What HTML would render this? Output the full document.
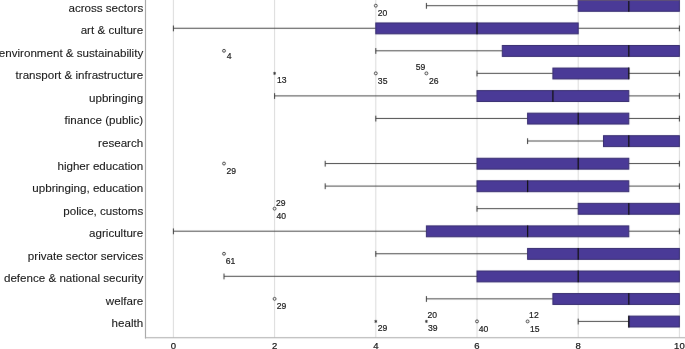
<!DOCTYPE html>
<html><head><meta charset="utf-8"><style>
html,body{margin:0;padding:0;background:#fff;width:685px;height:349px;overflow:hidden}
svg{display:block;will-change:transform;font-family:"Liberation Sans",sans-serif}
</style></head><body>
<svg width="685" height="349" viewBox="0 0 685 349">
<defs><filter id="bl" x="0" y="0" width="685" height="349" filterUnits="userSpaceOnUse" color-interpolation-filters="sRGB"><feConvolveMatrix order="3" kernelMatrix="0.00163 0.03713 0.00163 0.03713 0.84497 0.03713 0.00163 0.03713 0.00163" edgeMode="duplicate" preserveAlpha="true"/></filter></defs>
<rect width="685" height="349" fill="#fff"/>
<g filter="url(#bl)"><rect width="685" height="349" fill="#fff"/>
<line x1="173.40" y1="0" x2="173.40" y2="337.6" stroke="#dadada" stroke-width="1"/>
<line x1="274.60" y1="0" x2="274.60" y2="337.6" stroke="#dadada" stroke-width="1"/>
<line x1="375.80" y1="0" x2="375.80" y2="337.6" stroke="#dadada" stroke-width="1"/>
<line x1="477.00" y1="0" x2="477.00" y2="337.6" stroke="#dadada" stroke-width="1"/>
<line x1="578.20" y1="0" x2="578.20" y2="337.6" stroke="#dadada" stroke-width="1"/>
<line x1="679.40" y1="0" x2="679.40" y2="337.6" stroke="#dadada" stroke-width="1"/>
<line x1="145.5" y1="0" x2="145.5" y2="338.5" stroke="#a4a4a4" stroke-width="1.1"/>
<line x1="144.9" y1="337.75" x2="685" y2="337.75" stroke="#ababab" stroke-width="1"/>
<line x1="426.40" y1="5.70" x2="578.20" y2="5.70" stroke="#4a4a4a" stroke-width="1.0"/>
<line x1="426.40" y1="2.95" x2="426.40" y2="8.75" stroke="#3a3a3a" stroke-width="1.0"/>
<rect x="578.20" y="0.40" width="101.20" height="10.9" fill="#4a3a97" stroke="#352b6e" stroke-width="1"/>
<line x1="628.80" y1="-0.05" x2="628.80" y2="11.70" stroke="#111" stroke-width="1.25"/>
<line x1="173.40" y1="28.25" x2="375.80" y2="28.25" stroke="#4a4a4a" stroke-width="1.0"/>
<line x1="173.40" y1="25.50" x2="173.40" y2="31.30" stroke="#3a3a3a" stroke-width="1.0"/>
<line x1="578.20" y1="28.25" x2="679.40" y2="28.25" stroke="#4a4a4a" stroke-width="1.0"/>
<line x1="679.40" y1="25.50" x2="679.40" y2="31.30" stroke="#3a3a3a" stroke-width="1.0"/>
<rect x="375.80" y="22.95" width="202.40" height="10.9" fill="#4a3a97" stroke="#352b6e" stroke-width="1"/>
<line x1="477.00" y1="22.50" x2="477.00" y2="34.25" stroke="#111" stroke-width="1.25"/>
<line x1="375.80" y1="50.80" x2="502.30" y2="50.80" stroke="#4a4a4a" stroke-width="1.0"/>
<line x1="375.80" y1="48.05" x2="375.80" y2="53.85" stroke="#3a3a3a" stroke-width="1.0"/>
<rect x="502.30" y="45.50" width="177.10" height="10.9" fill="#4a3a97" stroke="#352b6e" stroke-width="1"/>
<line x1="628.80" y1="45.05" x2="628.80" y2="56.80" stroke="#111" stroke-width="1.25"/>
<line x1="477.00" y1="73.35" x2="552.90" y2="73.35" stroke="#4a4a4a" stroke-width="1.0"/>
<line x1="477.00" y1="70.60" x2="477.00" y2="76.40" stroke="#3a3a3a" stroke-width="1.0"/>
<line x1="628.80" y1="73.35" x2="679.40" y2="73.35" stroke="#4a4a4a" stroke-width="1.0"/>
<line x1="679.40" y1="70.60" x2="679.40" y2="76.40" stroke="#3a3a3a" stroke-width="1.0"/>
<rect x="552.90" y="68.05" width="75.90" height="10.9" fill="#4a3a97" stroke="#352b6e" stroke-width="1"/>
<line x1="628.80" y1="67.60" x2="628.80" y2="79.35" stroke="#111" stroke-width="1.25"/>
<line x1="274.60" y1="95.90" x2="477.00" y2="95.90" stroke="#4a4a4a" stroke-width="1.0"/>
<line x1="274.60" y1="93.15" x2="274.60" y2="98.95" stroke="#3a3a3a" stroke-width="1.0"/>
<line x1="628.80" y1="95.90" x2="679.40" y2="95.90" stroke="#4a4a4a" stroke-width="1.0"/>
<line x1="679.40" y1="93.15" x2="679.40" y2="98.95" stroke="#3a3a3a" stroke-width="1.0"/>
<rect x="477.00" y="90.60" width="151.80" height="10.9" fill="#4a3a97" stroke="#352b6e" stroke-width="1"/>
<line x1="552.90" y1="90.15" x2="552.90" y2="101.90" stroke="#111" stroke-width="1.25"/>
<line x1="375.80" y1="118.45" x2="527.60" y2="118.45" stroke="#4a4a4a" stroke-width="1.0"/>
<line x1="375.80" y1="115.70" x2="375.80" y2="121.50" stroke="#3a3a3a" stroke-width="1.0"/>
<line x1="628.80" y1="118.45" x2="679.40" y2="118.45" stroke="#4a4a4a" stroke-width="1.0"/>
<line x1="679.40" y1="115.70" x2="679.40" y2="121.50" stroke="#3a3a3a" stroke-width="1.0"/>
<rect x="527.60" y="113.15" width="101.20" height="10.9" fill="#4a3a97" stroke="#352b6e" stroke-width="1"/>
<line x1="578.20" y1="112.70" x2="578.20" y2="124.45" stroke="#111" stroke-width="1.25"/>
<line x1="527.60" y1="141.00" x2="603.50" y2="141.00" stroke="#4a4a4a" stroke-width="1.0"/>
<line x1="527.60" y1="138.25" x2="527.60" y2="144.05" stroke="#3a3a3a" stroke-width="1.0"/>
<rect x="603.50" y="135.70" width="75.90" height="10.9" fill="#4a3a97" stroke="#352b6e" stroke-width="1"/>
<line x1="628.80" y1="135.25" x2="628.80" y2="147.00" stroke="#111" stroke-width="1.25"/>
<line x1="325.20" y1="163.55" x2="477.00" y2="163.55" stroke="#4a4a4a" stroke-width="1.0"/>
<line x1="325.20" y1="160.80" x2="325.20" y2="166.60" stroke="#3a3a3a" stroke-width="1.0"/>
<line x1="628.80" y1="163.55" x2="679.40" y2="163.55" stroke="#4a4a4a" stroke-width="1.0"/>
<line x1="679.40" y1="160.80" x2="679.40" y2="166.60" stroke="#3a3a3a" stroke-width="1.0"/>
<rect x="477.00" y="158.25" width="151.80" height="10.9" fill="#4a3a97" stroke="#352b6e" stroke-width="1"/>
<line x1="578.20" y1="157.80" x2="578.20" y2="169.55" stroke="#111" stroke-width="1.25"/>
<line x1="325.20" y1="186.10" x2="477.00" y2="186.10" stroke="#4a4a4a" stroke-width="1.0"/>
<line x1="325.20" y1="183.35" x2="325.20" y2="189.15" stroke="#3a3a3a" stroke-width="1.0"/>
<line x1="628.80" y1="186.10" x2="679.40" y2="186.10" stroke="#4a4a4a" stroke-width="1.0"/>
<line x1="679.40" y1="183.35" x2="679.40" y2="189.15" stroke="#3a3a3a" stroke-width="1.0"/>
<rect x="477.00" y="180.80" width="151.80" height="10.9" fill="#4a3a97" stroke="#352b6e" stroke-width="1"/>
<line x1="527.60" y1="180.35" x2="527.60" y2="192.10" stroke="#111" stroke-width="1.25"/>
<line x1="477.00" y1="208.65" x2="578.20" y2="208.65" stroke="#4a4a4a" stroke-width="1.0"/>
<line x1="477.00" y1="205.90" x2="477.00" y2="211.70" stroke="#3a3a3a" stroke-width="1.0"/>
<rect x="578.20" y="203.35" width="101.20" height="10.9" fill="#4a3a97" stroke="#352b6e" stroke-width="1"/>
<line x1="628.80" y1="202.90" x2="628.80" y2="214.65" stroke="#111" stroke-width="1.25"/>
<line x1="173.40" y1="231.20" x2="426.40" y2="231.20" stroke="#4a4a4a" stroke-width="1.0"/>
<line x1="173.40" y1="228.45" x2="173.40" y2="234.25" stroke="#3a3a3a" stroke-width="1.0"/>
<line x1="628.80" y1="231.20" x2="679.40" y2="231.20" stroke="#4a4a4a" stroke-width="1.0"/>
<line x1="679.40" y1="228.45" x2="679.40" y2="234.25" stroke="#3a3a3a" stroke-width="1.0"/>
<rect x="426.40" y="225.90" width="202.40" height="10.9" fill="#4a3a97" stroke="#352b6e" stroke-width="1"/>
<line x1="527.60" y1="225.45" x2="527.60" y2="237.20" stroke="#111" stroke-width="1.25"/>
<line x1="375.80" y1="253.75" x2="527.60" y2="253.75" stroke="#4a4a4a" stroke-width="1.0"/>
<line x1="375.80" y1="251.00" x2="375.80" y2="256.80" stroke="#3a3a3a" stroke-width="1.0"/>
<rect x="527.60" y="248.45" width="151.80" height="10.9" fill="#4a3a97" stroke="#352b6e" stroke-width="1"/>
<line x1="578.20" y1="248.00" x2="578.20" y2="259.75" stroke="#111" stroke-width="1.25"/>
<line x1="224.00" y1="276.30" x2="477.00" y2="276.30" stroke="#4a4a4a" stroke-width="1.0"/>
<line x1="224.00" y1="273.55" x2="224.00" y2="279.35" stroke="#3a3a3a" stroke-width="1.0"/>
<rect x="477.00" y="271.00" width="202.40" height="10.9" fill="#4a3a97" stroke="#352b6e" stroke-width="1"/>
<line x1="578.20" y1="270.55" x2="578.20" y2="282.30" stroke="#111" stroke-width="1.25"/>
<line x1="426.40" y1="298.85" x2="552.90" y2="298.85" stroke="#4a4a4a" stroke-width="1.0"/>
<line x1="426.40" y1="296.10" x2="426.40" y2="301.90" stroke="#3a3a3a" stroke-width="1.0"/>
<rect x="552.90" y="293.55" width="126.50" height="10.9" fill="#4a3a97" stroke="#352b6e" stroke-width="1"/>
<line x1="628.80" y1="293.10" x2="628.80" y2="304.85" stroke="#111" stroke-width="1.25"/>
<line x1="578.20" y1="321.40" x2="628.80" y2="321.40" stroke="#4a4a4a" stroke-width="1.0"/>
<line x1="578.20" y1="318.65" x2="578.20" y2="324.45" stroke="#3a3a3a" stroke-width="1.0"/>
<rect x="628.80" y="316.10" width="50.60" height="10.9" fill="#4a3a97" stroke="#352b6e" stroke-width="1"/>
<line x1="628.80" y1="315.65" x2="628.80" y2="327.40" stroke="#111" stroke-width="1.25"/>
<line x1="578.20" y1="0.5" x2="679.40" y2="0.5" stroke="#5e5078" stroke-width="1"/>
<circle cx="375.80" cy="5.70" r="1.45" fill="#fff" stroke="#333" stroke-width="0.9"/>
<circle cx="224.00" cy="50.80" r="1.45" fill="#fff" stroke="#333" stroke-width="0.9"/>
<path d="M274.60,74.85L274.60,71.85M273.30,74.10L275.90,72.60M273.30,72.60L275.90,74.10" stroke="#333" stroke-width="0.9" fill="none"/>
<circle cx="375.80" cy="73.35" r="1.45" fill="#fff" stroke="#333" stroke-width="0.9"/>
<circle cx="426.40" cy="73.35" r="1.45" fill="#fff" stroke="#333" stroke-width="0.9"/>
<circle cx="224.00" cy="163.55" r="1.45" fill="#fff" stroke="#333" stroke-width="0.9"/>
<circle cx="274.60" cy="208.65" r="1.45" fill="#fff" stroke="#333" stroke-width="0.9"/>
<circle cx="224.00" cy="253.75" r="1.45" fill="#fff" stroke="#333" stroke-width="0.9"/>
<circle cx="274.60" cy="298.85" r="1.45" fill="#fff" stroke="#333" stroke-width="0.9"/>
<path d="M375.80,322.90L375.80,319.90M374.50,322.15L377.10,320.65M374.50,320.65L377.10,322.15" stroke="#333" stroke-width="0.9" fill="none"/>
<path d="M426.40,322.90L426.40,319.90M425.10,322.15L427.70,320.65M425.10,320.65L427.70,322.15" stroke="#333" stroke-width="0.9" fill="none"/>
<circle cx="477.00" cy="321.40" r="1.45" fill="#fff" stroke="#333" stroke-width="0.9"/>
<circle cx="527.60" cy="321.40" r="1.45" fill="#fff" stroke="#333" stroke-width="0.9"/>
</g>
<g fill="#1e1e1e">
<text x="173.40" y="349.4" text-anchor="middle" font-size="9.5" stroke="#1e1e1e" stroke-width="0.25">0</text>
<text x="274.60" y="349.4" text-anchor="middle" font-size="9.5" stroke="#1e1e1e" stroke-width="0.25">2</text>
<text x="375.80" y="349.4" text-anchor="middle" font-size="9.5" stroke="#1e1e1e" stroke-width="0.25">4</text>
<text x="477.00" y="349.4" text-anchor="middle" font-size="9.5" stroke="#1e1e1e" stroke-width="0.25">6</text>
<text x="578.20" y="349.4" text-anchor="middle" font-size="9.5" stroke="#1e1e1e" stroke-width="0.25">8</text>
<text x="679.40" y="349.4" text-anchor="middle" font-size="9.5" stroke="#1e1e1e" stroke-width="0.25">10</text>
<text x="143.2" y="11.65" text-anchor="end" font-size="11.6" stroke="#1e1e1e" stroke-width="0.12">across sectors</text>
<text x="143.2" y="34.20" text-anchor="end" font-size="11.6" stroke="#1e1e1e" stroke-width="0.12">art &amp; culture</text>
<text x="143.2" y="56.75" text-anchor="end" font-size="11.6" stroke="#1e1e1e" stroke-width="0.12">environment &amp; sustainability</text>
<text x="143.2" y="79.30" text-anchor="end" font-size="11.6" stroke="#1e1e1e" stroke-width="0.12">transport &amp; infrastructure</text>
<text x="143.2" y="101.85" text-anchor="end" font-size="11.6" stroke="#1e1e1e" stroke-width="0.12">upbringing</text>
<text x="143.2" y="124.40" text-anchor="end" font-size="11.6" stroke="#1e1e1e" stroke-width="0.12">finance (public)</text>
<text x="143.2" y="146.95" text-anchor="end" font-size="11.6" stroke="#1e1e1e" stroke-width="0.12">research</text>
<text x="143.2" y="169.50" text-anchor="end" font-size="11.6" stroke="#1e1e1e" stroke-width="0.12">higher education</text>
<text x="143.2" y="192.05" text-anchor="end" font-size="11.6" stroke="#1e1e1e" stroke-width="0.12">upbringing, education</text>
<text x="143.2" y="214.60" text-anchor="end" font-size="11.6" stroke="#1e1e1e" stroke-width="0.12">police, customs</text>
<text x="143.2" y="237.15" text-anchor="end" font-size="11.6" stroke="#1e1e1e" stroke-width="0.12">agriculture</text>
<text x="143.2" y="259.70" text-anchor="end" font-size="11.6" stroke="#1e1e1e" stroke-width="0.12">private sector services</text>
<text x="143.2" y="282.25" text-anchor="end" font-size="11.6" stroke="#1e1e1e" stroke-width="0.12">defence &amp; national security</text>
<text x="143.2" y="304.80" text-anchor="end" font-size="11.6" stroke="#1e1e1e" stroke-width="0.12">welfare</text>
<text x="143.2" y="327.35" text-anchor="end" font-size="11.6" stroke="#1e1e1e" stroke-width="0.12">health</text>
<text x="377.82" y="15.93" font-size="8.6" stroke="#1e1e1e" stroke-width="0.2">20</text>
<text x="226.76" y="59.08" font-size="8.6" stroke="#1e1e1e" stroke-width="0.2">4</text>
<text x="277.02" y="83.23" font-size="8.6" stroke="#1e1e1e" stroke-width="0.2">13</text>
<text x="377.87" y="83.68" font-size="8.6" stroke="#1e1e1e" stroke-width="0.2">35</text>
<text x="415.72" y="70.18" font-size="8.6" stroke="#1e1e1e" stroke-width="0.2">59</text>
<text x="428.92" y="83.73" font-size="8.6" stroke="#1e1e1e" stroke-width="0.2">26</text>
<text x="226.52" y="174.08" font-size="8.6" stroke="#1e1e1e" stroke-width="0.2">29</text>
<text x="276.02" y="205.58" font-size="8.6" stroke="#1e1e1e" stroke-width="0.2">29</text>
<text x="276.57" y="219.18" font-size="8.6" stroke="#1e1e1e" stroke-width="0.2">40</text>
<text x="225.72" y="264.08" font-size="8.6" stroke="#1e1e1e" stroke-width="0.2">61</text>
<text x="276.67" y="309.23" font-size="8.6" stroke="#1e1e1e" stroke-width="0.2">29</text>
<text x="377.77" y="331.23" font-size="8.6" stroke="#1e1e1e" stroke-width="0.2">29</text>
<text x="427.47" y="318.38" font-size="8.6" stroke="#1e1e1e" stroke-width="0.2">20</text>
<text x="428.02" y="331.28" font-size="8.6" stroke="#1e1e1e" stroke-width="0.2">39</text>
<text x="478.82" y="331.78" font-size="8.6" stroke="#1e1e1e" stroke-width="0.2">40</text>
<text x="529.12" y="318.33" font-size="8.6" stroke="#1e1e1e" stroke-width="0.2">12</text>
<text x="529.97" y="331.88" font-size="8.6" stroke="#1e1e1e" stroke-width="0.2">15</text>
</g>
</svg>
</body></html>
